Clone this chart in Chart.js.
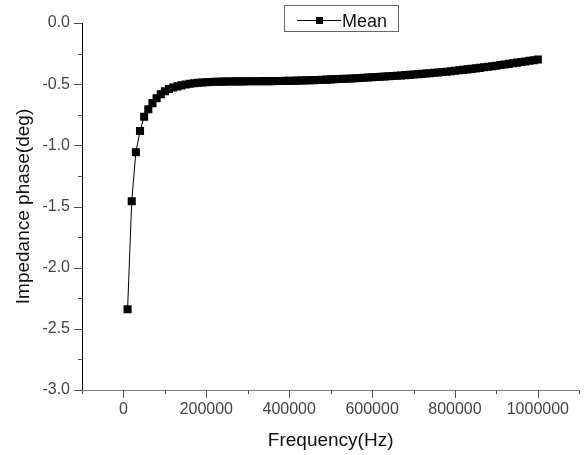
<!DOCTYPE html>
<html lang="en">
<head>
<meta charset="UTF-8">
<script src="https://cdn.jsdelivr.net/npm/chart.js"></script>
<style>
body { margin: 0; background: #fff; }
#chart { display: block; }
</style>
</head>
<body>
<canvas id="chart" width="585" height="455"></canvas>
<script>
// frequency (Hz)
const freq = [
  10000, 20000, 30000, 40000, 50000, 60000, 70000, 80000, 90000, 100000,
  110000, 120000, 130000, 140000, 150000, 160000, 170000, 180000, 190000, 200000,
  210000, 220000, 230000, 240000, 250000, 260000, 270000, 280000, 290000, 300000,
  310000, 320000, 330000, 340000, 350000, 360000, 370000, 380000, 390000, 400000,
  410000, 420000, 430000, 440000, 450000, 460000, 470000, 480000, 490000, 500000,
  510000, 520000, 530000, 540000, 550000, 560000, 570000, 580000, 590000, 600000,
  610000, 620000, 630000, 640000, 650000, 660000, 670000, 680000, 690000, 700000,
  710000, 720000, 730000, 740000, 750000, 760000, 770000, 780000, 790000, 800000,
  810000, 820000, 830000, 840000, 850000, 860000, 870000, 880000, 890000, 900000,
  910000, 920000, 930000, 940000, 950000, 960000, 970000, 980000, 990000, 1000000
];
// impedance phase (deg), series "Mean"
const phaseMean = [
  -2.340, -1.457, -1.057, -0.883, -0.767, -0.705, -0.655, -0.615, -0.582, -0.558,
  -0.540, -0.527, -0.518, -0.510, -0.503, -0.497, -0.492, -0.489, -0.486, -0.484,
  -0.482, -0.481, -0.480, -0.479, -0.478, -0.478, -0.477, -0.477, -0.477, -0.476,
  -0.476, -0.476, -0.476, -0.475, -0.475, -0.475, -0.474, -0.474, -0.473, -0.473,
  -0.472, -0.471, -0.470, -0.469, -0.468, -0.467, -0.466, -0.464, -0.463, -0.461,
  -0.460, -0.458, -0.456, -0.455, -0.453, -0.451, -0.449, -0.447, -0.445, -0.443,
  -0.441, -0.439, -0.437, -0.435, -0.433, -0.431, -0.429, -0.426, -0.424, -0.421,
  -0.419, -0.416, -0.413, -0.410, -0.407, -0.404, -0.401, -0.398, -0.394, -0.390,
  -0.387, -0.383, -0.379, -0.375, -0.371, -0.367, -0.362, -0.358, -0.353, -0.349,
  -0.344, -0.339, -0.334, -0.329, -0.324, -0.319, -0.314, -0.309, -0.304, -0.299
];
const seriesName = 'Mean';
const xTickLabels = [0, 200000, 400000, 600000, 800000, 1000000];
const yTickLabels = [0, -0.5, -1, -1.5, -2, -2.5, -3];

const points = freq.map((f, i) => ({ x: f, y: phaseMean[i] }));

// tick marks drawn outside the axes: long at labelled values, short between
const tickMarks = {
  id: 'tickMarks',
  afterDraw(chart) {
    const ctx = chart.ctx;
    const xs = chart.scales.x, ys = chart.scales.y;
    const area = chart.chartArea;
    ctx.save();
    ctx.lineWidth = 1;
    ctx.strokeStyle = '#555';
    xs.ticks.forEach(t => {
      const px = Math.round(xs.getPixelForValue(t.value)) + 0.5;
      const len = xTickLabels.includes(t.value) ? 8 : 4;
      ctx.beginPath();
      ctx.moveTo(px, area.bottom);
      ctx.lineTo(px, area.bottom + len);
      ctx.stroke();
    });
    ys.ticks.forEach(t => {
      const py = Math.round(ys.getPixelForValue(t.value)) + 0.5;
      const len = yTickLabels.some(v => Math.abs(v - t.value) < 1e-9) ? 8 : 4;
      ctx.beginPath();
      ctx.moveTo(area.left - len, py);
      ctx.lineTo(area.left, py);
      ctx.stroke();
    });
    ctx.restore();
  }
};

// boxed legend at the top, like the original
const boxLegend = {
  id: 'boxLegend',
  afterDraw(chart) {
    const ctx = chart.ctx;
    ctx.save();
    ctx.strokeStyle = '#666';
    ctx.lineWidth = 1;
    ctx.strokeRect(284.5, 5.5, 114, 26);
    ctx.strokeStyle = '#000';
    ctx.beginPath();
    ctx.moveTo(297, 20.5);
    ctx.lineTo(341, 20.5);
    ctx.stroke();
    ctx.fillStyle = '#000';
    ctx.fillRect(316, 17, 7, 7);
    ctx.font = '18px "Liberation Sans", Arial, sans-serif';
    ctx.textBaseline = 'alphabetic';
    ctx.fillStyle = '#111';
    ctx.fillText(seriesName, 342, 27);
    ctx.restore();
  }
};

new Chart(document.getElementById('chart'), {
  type: 'line',
  data: {
    datasets: [{
      label: seriesName,
      data: points,
      borderColor: '#000',
      borderWidth: 1,
      backgroundColor: '#000',
      pointStyle: 'rect',
      pointRadius: 5.7,
      pointBorderWidth: 0,
      pointBackgroundColor: '#000',
      tension: 0
    }]
  },
  options: {
    responsive: false,
    animation: false,
    layout: { padding: { top: 23, right: 2, left: 0, bottom: 0 } },
    plugins: {
      legend: { display: false },
      tooltip: { enabled: false }
    },
    scales: {
      x: {
        type: 'linear',
        min: -100000,
        max: 1100000,
        afterFit: s => { s.height = 65; },
        ticks: {
          stepSize: 100000,
          autoSkip: false,
          maxRotation: 0,
          padding: 2,
          color: '#444',
          font: { family: '"Liberation Sans", Arial, sans-serif', size: 16 },
          callback: v => xTickLabels.includes(v) ? String(v) : ''
        },
        grid: { display: true, drawOnChartArea: false, drawTicks: true, tickLength: 8, color: 'rgba(0,0,0,0)' },
        border: { display: true, color: '#808080', width: 1 },
        title: {
          display: true,
          text: 'Frequency(Hz)',
          color: '#111',
          padding: { top: 0, bottom: 3 },
          font: { family: '"Liberation Sans", Arial, sans-serif', size: 19 }
        }
      },
      y: {
        min: -3,
        max: 0,
        afterFit: s => { s.width = 82; },
        ticks: {
          stepSize: 0.25,
          autoSkip: false,
          padding: 4,
          color: '#444',
          font: { family: '"Liberation Sans", Arial, sans-serif', size: 16 },
          callback: v => yTickLabels.some(t => Math.abs(t - v) < 1e-9) ? v.toFixed(1) : ''
        },
        grid: { display: true, drawOnChartArea: false, drawTicks: true, tickLength: 8, color: 'rgba(0,0,0,0)' },
        border: { display: true, color: '#000', width: 1 },
        title: {
          display: true,
          text: 'Impedance phase(deg)',
          color: '#111',
          padding: { top: 12, bottom: 0 },
          font: { family: '"Liberation Sans", Arial, sans-serif', size: 19 }
        }
      }
    }
  },
  plugins: [tickMarks, boxLegend]
});
</script>
</body>
</html>
